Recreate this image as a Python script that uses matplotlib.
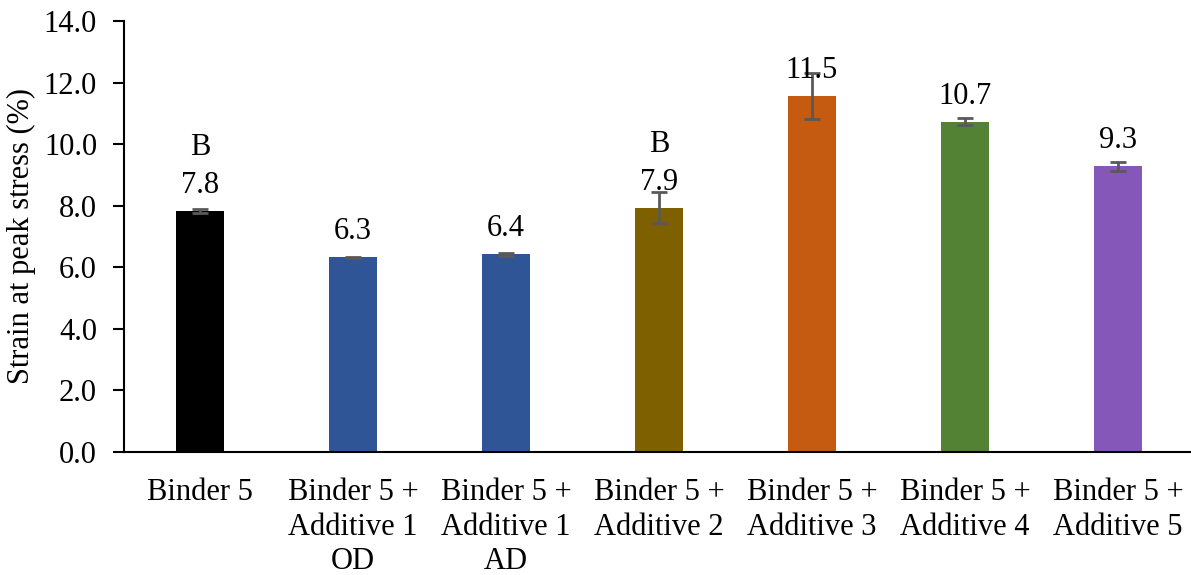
import matplotlib.pyplot as plt
import numpy as np

# data
categories = ["Binder 5", "Binder 5 +\nAdditive 1\nOD", "Binder 5 +\nAdditive 1\nAD",
              "Binder 5 +\nAdditive 2", "Binder 5 +\nAdditive 3", "Binder 5 +\nAdditive 4",
              "Binder 5 +\nAdditive 5"]
values = [7.83, 6.33, 6.42, 7.94, 11.57, 10.73, 9.28]
errors = [0.07, 0.02, 0.06, 0.50, 0.75, 0.12, 0.14]
labels = ["7.8", "6.3", "6.4", "7.9", "11.5", "10.7", "9.3"]
letters = ["B", "", "", "B", "", "", ""]
colors = ["#000000", "#2F5597", "#2F5597", "#7F6000", "#C55A11", "#548235", "#8557B9"]

plt.rcParams["font.family"] = ["Liberation Serif", "DejaVu Serif"]
plt.rcParams["font.size"] = 22

fig = plt.figure(figsize=(11.91, 5.75), dpi=100)
ax = fig.add_axes([123.5 / 1191, 123 / 575, 1071 / 1191, 431 / 575])

x = np.arange(len(categories))
ax.bar(x, values, width=0.31, color=colors, zorder=2)
ax.errorbar(x, values, yerr=errors, fmt="none", ecolor="#595959",
            elinewidth=2, capsize=6, capthick=2, zorder=3)

for xi, v, lab, let in zip(x, values, labels, letters):
    ax.annotate(lab, (xi, v), xytext=(0, 13), textcoords="offset points",
                ha="center", va="baseline", fontsize=22)
    if let:
        ax.annotate(let, (xi, v), xytext=(0, 40), textcoords="offset points",
                    ha="center", va="baseline", fontsize=22)

ax.set_xlim(-0.5, len(categories) - 0.5)
ax.set_ylim(0, 14)
ax.set_yticks(np.arange(0, 14.1, 2))
ax.set_yticklabels([f"{t:.1f}" for t in np.arange(0, 14.1, 2)])
ax.set_xticks(x)
ax.set_xticklabels(categories, linespacing=1.25)
ax.tick_params(axis="x", length=0, pad=19)
ax.tick_params(axis="y", length=8, width=1.5, pad=11, direction="out")
ax.set_ylabel("Strain at peak stress (%)", labelpad=6)

ax.spines["top"].set_visible(False)
ax.spines["right"].set_visible(False)
ax.spines["left"].set_linewidth(1.5)
ax.spines["bottom"].set_linewidth(1.5)

fig.savefig("out.png", dpi=100)
